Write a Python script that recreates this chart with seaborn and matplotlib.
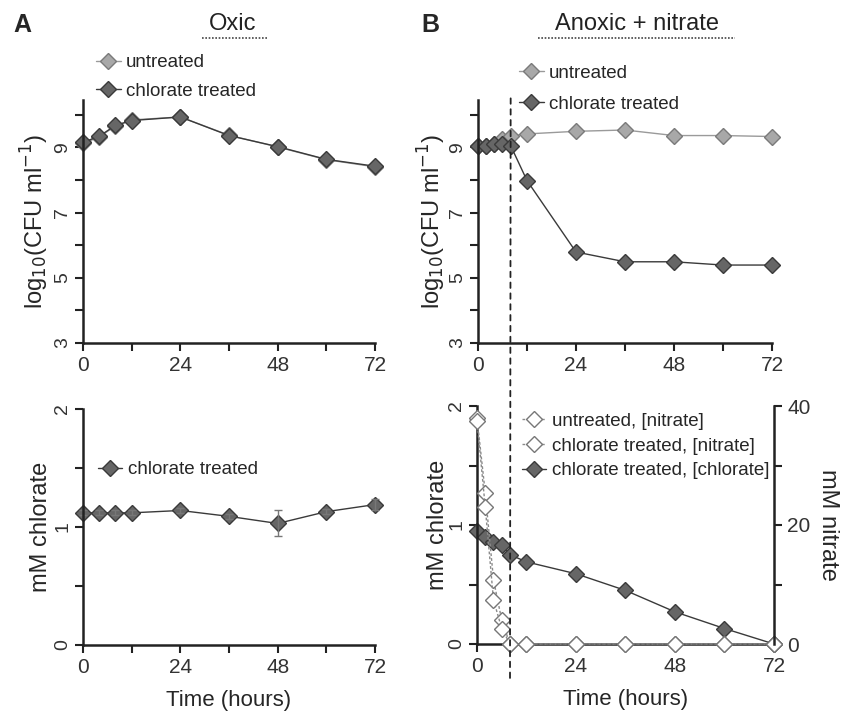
import numpy as np
import pandas as pd
import matplotlib
matplotlib.use("Agg")
import matplotlib.pyplot as plt
import seaborn as sns
from matplotlib.lines import Line2D
from matplotlib.patches import ConnectionPatch

# Data
hours_a = [0, 4, 8, 12, 24, 36, 48, 60, 72]
oxic_untreated = [9.12, 9.31, 9.66, 9.84, 9.93, 9.37, 9.01, 8.62, 8.40]
oxic_chlorate = [9.15, 9.34, 9.67, 9.82, 9.93, 9.36, 9.02, 8.63, 8.42]
oxic_chlorate_mM = [1.12, 1.12, 1.12, 1.12, 1.14, 1.09, 1.03, 1.13, 1.19]
oxic_chlorate_err = [0.02, 0.02, 0.02, 0.02, 0.02, 0.02, 0.11, 0.02, 0.05]

hours_b = [0, 2, 4, 6, 8, 12, 24, 36, 48, 60, 72]
anox_untreated = [9.05, 9.05, 9.10, 9.25, 9.35, 9.41, 9.49, 9.53, 9.36, 9.36, 9.33]
anox_chlorate = [9.05, 9.05, 9.10, 9.10, 9.05, 7.98, 5.79, 5.49, 5.49, 5.39, 5.39]
anox_chlorate_mM = [0.95, 0.90, 0.86, 0.83, 0.75, 0.69, 0.59, 0.45, 0.27, 0.13, 0.0]
nitrate_untreated = [38.0, 25.4, 10.8, 4.0, 0, 0, 0, 0, 0, 0, 0]
nitrate_chlorate = [37.5, 23.0, 7.4, 2.6, 0, 0, 0, 0, 0, 0, 0]
shift_time = 8

sns.set_style("ticks")
plt.rcParams['font.family'] = ['Liberation Sans', 'DejaVu Sans']

fig = plt.figure(figsize=(8.43, 7.17), dpi=100)
W, H = 843, 717


def px_axes(left, top, right, bottom):
    return fig.add_axes([left / W, 1 - bottom / H, (right - left) / W, (bottom - top) / H])


ax1 = px_axes(83, 100, 375, 343)
ax2 = px_axes(478, 100, 772, 343)
ax3 = px_axes(83, 409, 375, 645)
ax4 = px_axes(477, 406, 774, 644)

dark = dict(color='#3a3a3a', markerfacecolor='#666666', markeredgecolor='#3a3a3a')
light = dict(color='#9a9a9a', markerfacecolor='#a8a8a8', markeredgecolor='#7a7a7a')
openm = dict(color='#8a8a8a', markerfacecolor='white', markeredgecolor='#777777')
mk = dict(marker='D', markersize=8, markeredgewidth=1.0, linewidth=1.0, clip_on=False)


def style_axis(ax, ymin, ymax, ymajor, yminor):
    ax.set_xlim(0, 72)
    ax.set_ylim(ymin, ymax)
    ax.set_xticks([0, 24, 48, 72])
    ax.set_xticks([12, 36, 60], minor=True)
    ax.set_yticks(ymajor)
    ax.set_yticks(yminor, minor=True)
    for s in ['top', 'right']:
        ax.spines[s].set_visible(False)
    for s in ['left', 'bottom']:
        ax.spines[s].set_linewidth(1.8)
        ax.spines[s].set_color('#222222')
    ax.tick_params(which='both', direction='out', width=1.5, length=6, colors='#222222',
                   labelsize=15, labelcolor='#333333')
    ax.tick_params(axis='y', labelsize=14, pad=2.5)
    for lab in ax.get_yticklabels():
        lab.set_rotation(90)
        lab.set_va('center')
    ax.set_xlabel('')
    ax.set_ylabel('')


leg_kw = dict(frameon=False, fontsize=13.5, handlelength=1.3, handletextpad=0.3,
              borderpad=0, borderaxespad=0, loc='center left')

# A top
sns.lineplot(x=hours_a, y=oxic_untreated, ax=ax1, label='untreated', **light, **mk)
sns.lineplot(x=hours_a, y=oxic_chlorate, ax=ax1, label='chlorate treated', **dark, **mk)
style_axis(ax1, 3, 10.45, [3, 5, 7, 9], [4, 6, 8, 10])
ax1.set_ylabel(r'log$_{10}$(CFU ml$^{-1}$)', fontsize=17)
ax1.yaxis.set_label_coords(-0.11, 0.5)
ax1.legend(bbox_to_anchor=(0.045, 1.095), labelspacing=0.6, **leg_kw)

# B top
sns.lineplot(x=hours_b, y=anox_untreated, ax=ax2, label='untreated', **light, **mk)
sns.lineplot(x=hours_b, y=anox_chlorate, ax=ax2, label='chlorate treated', **dark, **mk)
style_axis(ax2, 3, 10.45, [3, 5, 7, 9], [4, 6, 8, 10])
ax2.set_ylabel(r'log$_{10}$(CFU ml$^{-1}$)', fontsize=17)
ax2.yaxis.set_label_coords(-0.102, 0.5)
ax2.legend(bbox_to_anchor=(0.14, 1.047), labelspacing=0.75, **leg_kw)

# A bottom
sns.lineplot(x=hours_a, y=oxic_chlorate_mM, ax=ax3, label='chlorate treated', **dark, **mk)
ax3.errorbar(hours_a, oxic_chlorate_mM, yerr=oxic_chlorate_err, fmt='none',
             ecolor='#777777', elinewidth=1.0, capsize=3, clip_on=False)
style_axis(ax3, 0, 2, [0, 1, 2], [0.5, 1.5])
ax3.set_ylabel('mM chlorate', fontsize=17)
ax3.yaxis.set_label_coords(-0.106, 0.5)
ax3.set_xlabel('Time (hours)', fontsize=16, labelpad=9)
ax3.legend(bbox_to_anchor=(0.05, 0.742), **leg_kw)

# B bottom with twin nitrate axis
ax4b = ax4.twinx()
sns.lineplot(x=hours_b, y=anox_chlorate_mM, ax=ax4, label='chlorate treated, [chlorate]', **dark, **mk)
sns.lineplot(x=hours_b, y=nitrate_untreated, ax=ax4b, label='untreated, [nitrate]',
             linestyle=(0, (2, 1.5)), **openm, **mk)
sns.lineplot(x=hours_b, y=nitrate_chlorate, ax=ax4b, label='chlorate treated, [nitrate]',
             linestyle=(0, (2, 1.5)), **openm, **mk)
style_axis(ax4, 0, 2, [0, 1, 2], [0.5, 1.5])
ax4.set_ylabel('mM chlorate', fontsize=17)
ax4.yaxis.set_label_coords(-0.095, 0.5)
ax4.set_xlabel('Time (hours)', fontsize=16, labelpad=9)
ax4b.set_ylim(0, 40)
ax4b.set_yticks([0, 20, 40])
ax4b.set_yticks([10, 30], minor=True)
for s in ['top', 'left', 'bottom']:
    ax4b.spines[s].set_visible(False)
ax4b.spines['right'].set_linewidth(1.8)
ax4b.spines['right'].set_color('#222222')
ax4b.tick_params(which='both', direction='out', width=1.5, length=6, colors='#222222',
                 labelsize=15, labelcolor='#333333')
ax4b.set_ylabel('mM nitrate', fontsize=17, rotation=270)
ax4b.yaxis.set_label_coords(1.22, 0.5)
if ax4.get_legend():
    ax4.get_legend().remove()
h4, l4 = ax4.get_legend_handles_labels()
h4b, l4b = ax4b.get_legend_handles_labels()
ax4b.legend(h4b + h4, l4b + l4, bbox_to_anchor=(0.15, 0.832), labelspacing=0.4, **leg_kw)

# dashed line marking the shift, running through both B panels
con = ConnectionPatch(xyA=(shift_time, 10.5), coordsA=ax2.transData,
                      xyB=(shift_time, -0.3), coordsB=ax4.transData,
                      linestyle=(0, (3, 3)), color='#222222', linewidth=1.3, zorder=5)
fig.add_artist(con)

# panel letters and titles
fig.text(22 / W, 1 - 25 / H, 'A', fontsize=18, fontweight='bold', ha='center', va='center')
fig.text(430 / W, 1 - 25 / H, 'B', fontsize=18, fontweight='bold', ha='center', va='center')
fig.text(233 / W, 1 - 24 / H, 'Oxic', fontsize=17, ha='center', va='center', color='#222222')
fig.text(637 / W, 1 - 24 / H, 'Anoxic + nitrate', fontsize=17, ha='center', va='center', color='#222222')
fig.add_artist(Line2D([202 / W, 267 / W], [1 - 38 / H, 1 - 38 / H], color='#444444',
                      linewidth=1.2, linestyle=(0, (1, 1))))
fig.add_artist(Line2D([538 / W, 735 / W], [1 - 38 / H, 1 - 38 / H], color='#444444',
                      linewidth=1.2, linestyle=(0, (1, 1))))

fig.savefig('out.png', dpi=100)
